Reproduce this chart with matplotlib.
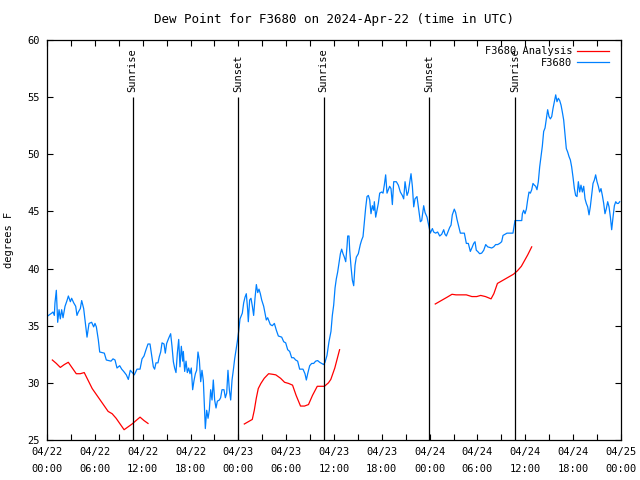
import numpy as np
import matplotlib
matplotlib.use("Agg")
import matplotlib.pyplot as plt

# hours since 2024-04-22 00:00 UTC
blue_hours = [
    0.08, 0.59, 0.75, 0.92, 1.0, 1.17, 1.34, 1.51, 1.67, 1.84, 2.01, 2.26, 2.51, 2.68, 2.93,
    3.09, 3.35, 3.6, 3.76, 3.93, 4.18, 4.35, 4.6, 4.77, 4.93, 5.02, 5.27, 5.6, 5.85, 6.02,
    6.19, 6.44, 6.61, 7.19, 7.44, 8.03, 8.28, 8.53, 8.78, 9.12, 9.37, 9.62, 9.95, 10.2, 10.45,
    10.7, 10.95, 11.29, 11.67, 11.92, 12.17, 12.42, 12.67, 12.92, 13.09, 13.34, 13.5, 13.67, 13.92,
    14.09, 14.26, 14.43, 14.68, 14.84, 15.01, 15.26, 15.51, 15.68, 15.85, 16.01, 16.18, 16.35,
    16.52, 16.68, 16.85, 17.02, 17.1, 17.27, 17.44, 17.6, 17.77, 17.94, 18.1, 18.27, 18.44,
    18.61, 18.77, 18.94, 19.11, 19.28, 19.44, 19.61, 19.78, 19.86, 20.03, 20.2, 20.36, 20.53,
    20.7, 20.86, 21.03, 21.2, 21.37, 21.62, 21.78, 21.95, 22.2, 22.37, 22.54, 22.7, 22.87,
    23.04, 23.21, 23.37, 23.54, 23.71, 23.87, 24.04, 24.21, 24.33, 24.5, 24.67, 24.84, 25.0,
    25.17, 25.25, 25.42, 25.59, 25.76, 25.92, 26.09, 26.26, 26.43, 26.59, 26.76, 26.93, 27.18,
    27.35, 27.51, 27.68, 27.85, 28.01, 28.26, 28.52, 28.77, 29.02, 29.44, 29.69, 29.94, 30.19,
    30.44, 30.69, 30.94, 31.19, 31.44, 31.69, 32.11, 32.36, 32.53, 32.7, 32.95, 33.2, 33.45,
    33.7, 33.95, 34.2, 34.45, 34.7, 34.87, 35.12, 35.37, 35.62, 35.79, 35.96, 36.13, 36.29,
    36.46, 36.63, 36.8, 36.96, 37.13, 37.3, 37.47, 37.63, 37.72, 37.88, 37.97, 38.13, 38.3,
    38.47, 38.64, 38.8, 39.05, 39.3, 39.47, 39.64, 39.81, 39.97, 40.14, 40.31, 40.48, 40.64,
    40.81, 40.98, 41.06, 41.23, 41.39, 41.56, 41.73, 41.98, 42.15, 42.31, 42.48, 42.65, 42.82,
    42.98, 43.15, 43.32, 43.49, 43.82, 44.07, 44.32, 44.57, 44.74, 44.91, 45.16, 45.32, 45.49,
    45.66, 45.83, 46.0, 46.16, 46.41, 46.58, 46.83, 47.0, 47.25, 47.42, 47.67, 47.83, 48.08,
    48.34, 48.5, 48.75, 49.0, 49.26, 49.51, 49.76, 49.92, 50.09, 50.34, 50.51, 50.68, 50.84,
    51.09, 51.26, 51.43, 51.6, 51.85, 52.1, 52.35, 52.6, 52.85, 53.1, 53.35, 53.52, 53.69,
    53.85, 54.02, 54.27, 54.52, 54.78, 55.03, 55.28, 55.53, 55.78, 56.03, 56.28, 56.53, 56.78,
    57.03, 57.2, 57.45, 57.7, 57.95, 58.2, 58.45, 58.7, 59.55, 59.63, 59.79, 59.96, 60.13,
    60.29, 60.46, 60.63, 60.8, 60.96, 61.13, 61.3, 61.46, 61.63, 61.8, 61.97, 62.13, 62.3,
    62.47, 62.64, 62.8, 62.97, 63.14, 63.31, 63.47, 63.64, 63.81, 63.97, 64.14, 64.31, 64.48,
    64.64, 64.81, 64.98, 65.14, 65.31, 65.48, 65.65, 65.81, 65.98, 66.15, 66.31, 66.48, 66.65,
    66.82, 66.98, 67.15, 67.32, 67.49, 67.65, 67.82, 67.99, 68.15, 68.32, 68.49, 68.66, 68.82,
    68.99, 69.16, 69.32, 69.49, 69.66, 69.83, 69.99, 70.16, 70.33, 70.5, 70.67, 70.83, 71.0,
    71.17, 71.34, 71.5, 71.67, 71.84,
]
blue_dewpt = [
    35.85, 36.1, 36.2, 35.9, 37.0, 38.1, 35.3, 36.4, 35.6, 36.4, 35.7, 36.7, 37.2, 37.6, 37.1,
    37.4, 37.0, 36.7, 35.9, 36.2, 36.5, 37.2, 36.5, 35.5, 34.6, 34.0, 35.2, 35.3, 34.9, 35.2,
    34.9, 33.75, 32.7, 32.6, 32.0, 31.9, 32.1, 32.0, 31.3, 31.5, 31.2, 31.0, 30.7, 30.3, 31.1,
    30.9, 30.7, 31.2, 31.2, 32.1, 32.35, 32.9, 33.4, 33.4, 32.6, 31.4, 31.2, 31.75, 31.75,
    32.3, 32.7, 33.5, 33.4, 32.6, 33.45, 33.9, 34.3, 33.2, 31.85, 31.3, 30.9, 32.6,
    33.8, 31.4, 33.2, 31.9, 32.75, 31.0, 31.9, 30.9, 31.3, 30.8, 31.3, 29.4, 30.2,
    30.8, 31.1, 32.7, 32.0, 30.1, 31.1, 30.2, 27.2, 26.0, 27.6, 26.9, 27.6, 29.4,
    28.5, 30.25, 28.5, 27.8, 28.4, 28.5, 28.7, 29.4, 29.4, 28.7, 29.1, 31.1, 29.4,
    28.5, 30.25, 31.1, 32.1, 32.85, 33.6, 34.5, 35.6, 35.8, 36.1, 37.0, 37.5, 37.8,
    36.4, 35.35, 37.25, 37.4, 36.7, 35.9, 37.4, 38.6, 37.9, 38.2, 37.8, 37.25, 36.7,
    36.1, 35.5, 35.7, 35.4, 35.1, 35.0, 35.2, 34.6, 34.1, 34.0, 33.6, 33.5, 32.9,
    32.75, 32.2, 32.2, 32.0, 31.9, 31.2, 31.2, 30.8, 30.25, 30.8, 31.5, 31.7, 31.7,
    31.9, 31.95, 31.8, 31.7, 31.6, 31.8, 32.4, 33.6, 34.5, 35.9, 36.8, 38.3, 39.1,
    39.7, 40.5, 41.3, 41.7, 41.3, 41.0, 40.6, 41.9, 42.85, 42.85, 41.6, 40.2, 39.0,
    38.5, 40.3, 41.0, 41.3, 42.1, 42.5, 42.8, 44.1, 45.3, 46.3, 46.4, 46.0, 44.8,
    45.5, 45.1, 45.85, 44.5, 45.1, 45.7, 46.6, 46.7, 46.6, 47.3, 48.2, 46.6, 46.9,
    47.2, 47.0, 45.6, 47.6, 47.6, 47.3, 46.7, 46.4, 46.1, 47.6, 46.4, 46.7, 47.5,
    48.3, 47.2, 45.4, 46.1, 46.3, 45.4, 44.1, 44.2, 45.5, 44.9, 44.5, 43.95, 43.1,
    43.5, 43.2, 43.1, 43.2, 42.85, 43.0, 43.4, 43.0, 42.85, 43.3, 43.6, 43.8, 44.7,
    45.2, 44.9, 44.3, 43.8, 43.1, 43.1, 43.1, 42.2, 42.2, 41.5, 41.9, 42.2, 42.35,
    41.6, 41.5, 41.3, 41.35, 41.6, 42.1, 41.9, 41.85, 41.8, 41.9, 42.1, 42.1, 42.2,
    42.35, 42.9, 43.0, 43.1, 43.1, 43.1, 43.1, 44.2, 44.2, 44.8, 45.1, 44.8, 45.2,
    46.0, 46.7, 46.6, 46.9, 47.45, 47.3, 47.2, 46.9, 47.6, 48.9, 49.8, 50.7, 52.0,
    52.3, 53.1, 53.9, 53.3, 53.1, 53.3, 54.0, 54.6, 55.2, 54.6, 54.9, 54.7, 54.3,
    53.7, 53.0, 51.7, 50.5, 50.2, 49.8, 49.5, 48.9, 48.0, 47.0, 46.4, 46.3, 47.6,
    46.7, 47.3, 46.7, 47.2, 46.1, 45.7, 45.4, 44.7, 45.4, 46.4, 47.45, 47.75, 48.2,
    47.6, 47.2, 46.7, 47.0, 46.4, 45.7, 44.8, 45.25, 45.85, 45.4, 44.5, 43.4, 44.5,
    45.5, 45.85, 45.7, 45.7, 45.85,
]

# analysis series, gaps between the three runs
red_hours = [
    0.67, 1.17, 1.67, 2.17, 2.67, 3.17, 3.67, 4.17, 4.67, 5.17, 5.67, 6.17, 6.67, 7.17, 7.67,
    8.17, 8.67, 9.17, 9.67, 10.17, 10.67, 11.17, 11.67, 12.17, 12.67, 18.0,
    24.75, 25.25, 25.75, 26.0, 26.25, 26.5, 26.83, 27.25, 27.8, 28.3, 28.7, 29.3, 29.8, 30.3,
    30.8, 31.25, 31.8, 32.3, 32.8, 33.3, 33.9, 34.4, 34.8, 35.3, 35.6, 36.1, 36.7, 42.0,
    48.7, 49.2, 49.7, 50.2, 50.8, 51.3, 52.0, 52.6, 53.3, 53.9, 54.4, 55.0, 55.7, 56.05,
    56.5, 57.0, 57.5, 58.0, 58.5, 59.0, 59.5, 59.9, 60.3, 60.8,
]
red_dewpt = [
    32.0, 31.7, 31.35, 31.6, 31.8, 31.3, 30.8, 30.8, 30.9, 30.2, 29.5, 29.0, 28.5, 28.0, 27.5,
    27.3, 26.9, 26.4, 25.9, 26.15, 26.4, 26.7, 27.0, 26.7, 26.45, np.nan,
    26.4, 26.6, 26.8, 27.6, 28.65, 29.5, 29.95, 30.4, 30.8, 30.75, 30.7, 30.4, 30.05, 29.95,
    29.8, 28.9, 27.97, 27.97, 28.1, 28.9, 29.7, 29.7, 29.7, 30.0, 30.3, 31.3, 32.9, np.nan,
    36.9, 37.1, 37.3, 37.5, 37.75, 37.7, 37.7, 37.7, 37.55, 37.55, 37.65, 37.55, 37.35, 37.8,
    38.7, 38.9, 39.1, 39.3, 39.5, 39.8, 40.2, 40.7, 41.2, 41.9,
]

sun_hours = [10.75, 23.98, 34.7, 47.97, 58.72]
sun_labels = ["Sunrise", "Sunset", "Sunrise", "Sunset", "Sunrise"]

tick_hours = list(range(0, 73, 3))
tick_labels = ["04/22\n00:00", "", "04/22\n06:00", "", "04/22\n12:00", "", "04/22\n18:00", "",
               "04/23\n00:00", "", "04/23\n06:00", "", "04/23\n12:00", "", "04/23\n18:00", "",
               "04/24\n00:00", "", "04/24\n06:00", "", "04/24\n12:00", "", "04/24\n18:00", "",
               "04/25\n00:00"]

plt.rcParams['font.family'] = ['DejaVu Sans Mono']
plt.rcParams['font.size'] = 7.5

fig = plt.figure(figsize=(6.4, 4.8), dpi=100)
ax = fig.add_axes([47/640, 40/480, 574/640, 400/480])

ax.plot(red_hours, red_dewpt, color='#ff0000', lw=0.9, label='F3680 Analysis')
ax.plot(blue_hours, blue_dewpt, color='#0080ff', lw=0.9, label='F3680')

for h, lab in zip(sun_hours, sun_labels):
    ax.vlines(h, 25, 55, color='black', lw=0.9)
    ax.text(h, 55.45, lab, rotation=90, ha='center', va='bottom')

ax.set_xlim(0, 72)
ax.set_ylim(25, 60)
ax.set_xticks(tick_hours)
ax.set_xticklabels(tick_labels, linespacing=1.9)
ax.set_yticks(range(25, 61, 5))
ax.tick_params(direction='in', length=4, width=0.8, top=True, right=True, pad=5)
for s in ax.spines.values():
    s.set_linewidth(0.9)

ax.set_title('Dew Point for F3680 on 2024-Apr-22 (time in UTC)', pad=12)
ax.set_ylabel('degrees F', labelpad=10)

ax.legend(loc='upper right', bbox_to_anchor=(0.9895, 1.0), frameon=False, markerfirst=False,
          handlelength=3.0, borderaxespad=0.2, labelspacing=0.15, handletextpad=0.5)

fig.savefig('out.png', dpi=100)
